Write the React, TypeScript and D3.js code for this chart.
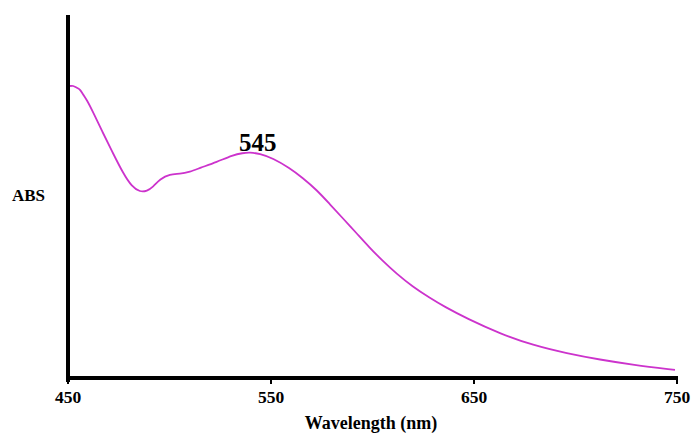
import React from 'react';
import * as d3 from 'd3';

const wavelengths = [
  451, 452.5, 454.4, 455.9, 457.4, 459.3, 462.3, 467.2, 472.1, 477.1, 481.5, 485.5, 488.9,
  491.9, 495.3, 500.2, 505.1, 510, 514.9, 523.3, 531.2, 536.1, 539.5, 544.4, 550.8, 559.2,
  565.6, 572.5, 578.9, 585.3, 592.1, 598.5, 604.9, 611.8, 619.7, 628, 635.4, 646.6, 662.8,
  679.1, 695.8, 712.1, 728.3, 749,
];
const absorbance = [
  0.973, 0.975, 0.967, 0.963, 0.945, 0.927, 0.887, 0.817, 0.75, 0.683, 0.637, 0.62, 0.623,
  0.637, 0.663, 0.68, 0.68, 0.687, 0.7, 0.72, 0.743, 0.75, 0.752, 0.748, 0.733, 0.7,
  0.667, 0.627, 0.58, 0.533, 0.483, 0.435, 0.391, 0.348, 0.305, 0.268, 0.238, 0.198, 0.148,
  0.109, 0.082, 0.061, 0.044, 0.027,
];
const xTicks = [450, 550, 650, 750];
const peakLabel = '545';
const peakAt = 545;

export default function App() {
  const width = 691;
  const height = 434;
  const margin = { top: 15, right: 14, bottom: 56, left: 68 };

  const x = d3.scaleLinear().domain([450, 750]).range([margin.left, width - margin.right]);
  const y = d3.scaleLinear().domain([0, 1.21]).range([height - margin.bottom, margin.top]);

  const points = wavelengths.map((w, i) => ({ w, a: absorbance[i] }));
  const line = d3.line<{ w: number; a: number }>()
    .x(d => x(d.w))
    .y(d => y(d.a))
    .curve(d3.curveBasis);

  const y0 = y(0);
  const font = '"Liberation Serif", "Times New Roman", serif';

  return (
    <svg width={width} height={height} style={{ position: 'absolute', left: 0, top: 0, background: '#fff' }}
      fontFamily={font} fontWeight="bold">
      {/* curve */}
      <path d={line(points) ?? ''} fill="none" stroke="#cc33cc" strokeWidth={1.8} />

      {/* axes */}
      <line x1={x(450)} x2={x(450)} y1={margin.top} y2={y0 + 4} stroke="#000" strokeWidth={4} />
      <line x1={x(450) - 2} x2={x(750) + 1} y1={y0} y2={y0} stroke="#000" strokeWidth={4} />
      {xTicks.map(t => (
        <g key={t}>
          <line x1={x(t)} x2={x(t)} y1={y0} y2={y0 + 6} stroke="#000" strokeWidth={2} />
          <text x={x(t)} y={y0 + 25} textAnchor="middle" fontSize={17.5}>{t}</text>
        </g>
      ))}

      {/* labels */}
      <text x={371} y={height - 5} textAnchor="middle" fontSize={18}>Wavelength (nm)</text>
      <text x={12} y={201} fontSize={17}>ABS</text>
      <text x={x(peakAt) - 3} y={151} textAnchor="middle" fontSize={25}>{peakLabel}</text>
    </svg>
  );
}
